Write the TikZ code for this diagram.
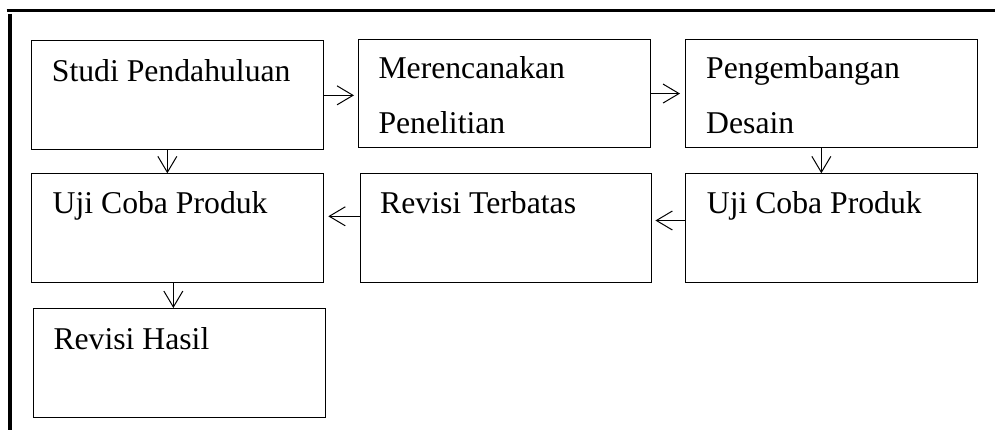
\documentclass[tikz,border=0pt]{standalone}
\usepackage{fontspec}
\setmainfont{Liberation Serif}
\usetikzlibrary{arrows.meta}
\begin{document}
\begin{tikzpicture}[x=1pt,y=-1pt,
  box/.style={draw, line width=1pt, rectangle, inner sep=0pt, anchor=north west, minimum width=291.7pt, minimum height=108.7pt},
  txt/.style={anchor=base west, inner sep=0pt, font=\fontsize{31.7}{55}\selectfont, align=left},
  arr/.style={-{Straight Barb[length=16pt,width=19pt,line width=1pt]}, line width=1pt}
]
\useasboundingbox (0,0) rectangle (995,430);
\draw[line width=3pt] (6.7,10.7) -- (995,10.7);
\draw[line width=3.5pt] (10,14) -- (10,430);
\node[box] (b1) at (31,40.5) {};
\node[box] (b2) at (358,38.7) {};
\node[box] (b3) at (685,38.7) {};
\node[box, minimum height=109pt] (b4) at (31,173.3) {};
\node[box, minimum height=109pt] (b5) at (359.7,173.3) {};
\node[box, minimum height=109pt] (b6) at (685,173.3) {};
\node[box, minimum width=292pt] (b7) at (32.7,308) {};
\node[txt] (t1) at (51.7,81.5) {Studi Pendahuluan};
\node[txt] (t2) at (378.3,133.3) {Merencanakan\\Penelitian};
\node[txt] (t3) at (706,133.3) {Pengembangan\\Desain};
\node[txt] (t4) at (52.5,214) {Uji Coba Produk};
\node[txt] (t5) at (380,214) {Revisi Terbatas};
\node[txt] (t6) at (706.7,213.3) {Uji Coba Produk};
\node[txt] (t7) at (53.3,349) {Revisi Hasil};
\draw[arr] (b1.east) -- ([xshift=-4pt]b1.east -| b2.west);
\draw[arr] (b2.east) -- ([xshift=-5pt]b2.east -| b3.west);
\draw[arr] ([xshift=-10pt]b3.south) -- ([xshift=-10pt]b3.south |- b6.north);
\draw[arr] ([yshift=7.8pt]b6.west) -- ([xshift=3pt,yshift=7.8pt]b6.west -| b5.east);
\draw[arr] ([yshift=12pt]b5.west) -- ([xshift=4.6pt,yshift=12pt]b5.west -| b4.east);
\draw[arr] ([xshift=-10pt]b1.south) -- ([xshift=-10pt]b1.south |- b4.north);
\draw[arr] ([xshift=-4pt]b4.south) -- ([xshift=-4pt]b4.south |- b7.north);
\end{tikzpicture}
\end{document}
